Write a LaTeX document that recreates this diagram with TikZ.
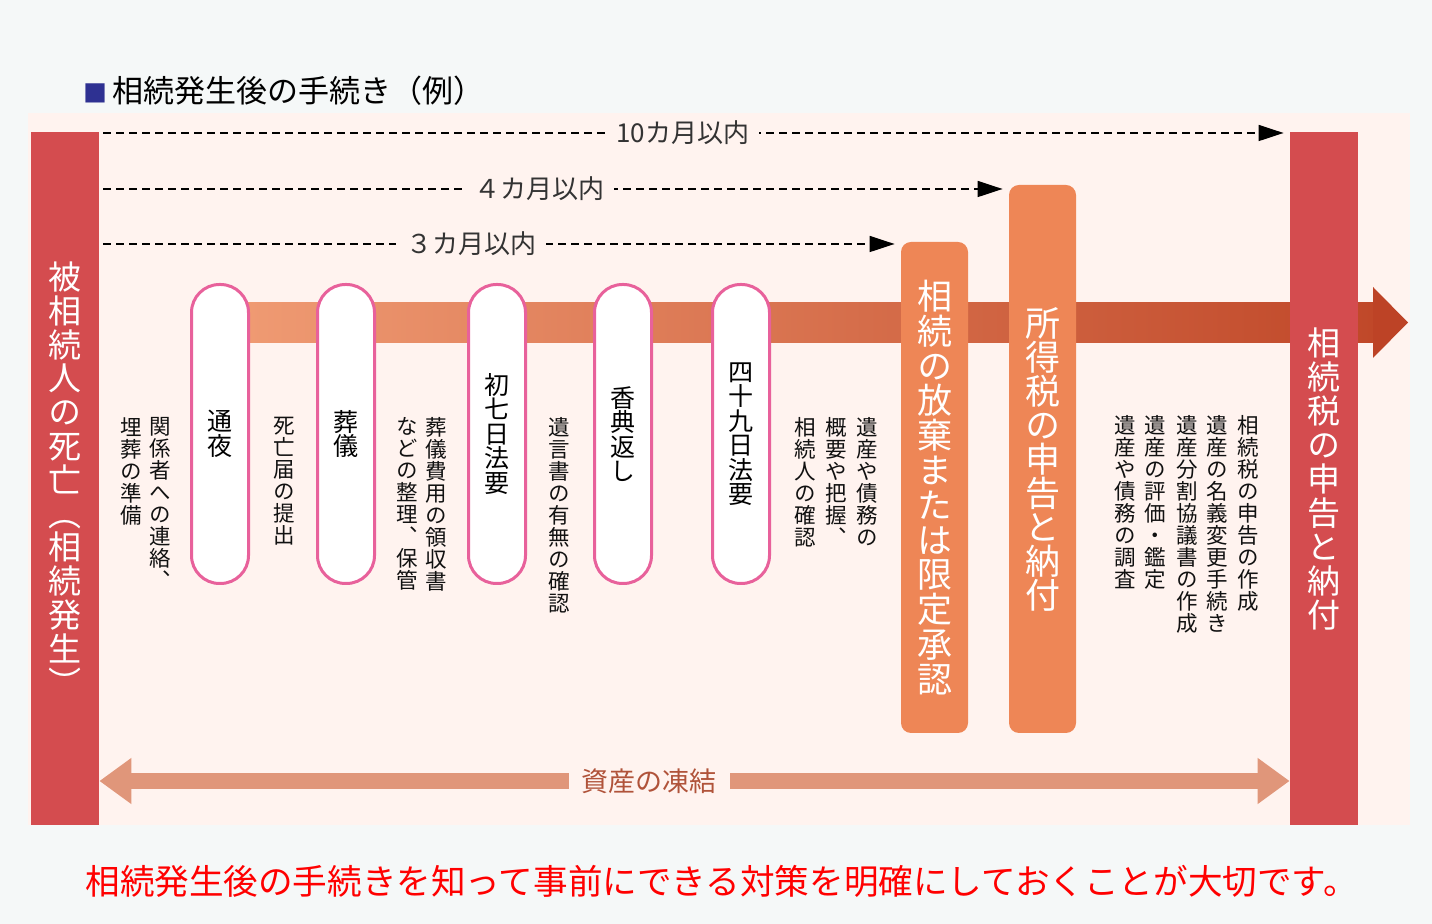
\documentclass[tikz,border=0pt]{standalone}
\usepackage{fontspec}
\setmainfont{Noto Sans CJK JP}
\newfontfamily\tatefont[RawFeature=+vert]{Noto Sans CJK JP}
\usetikzlibrary{arrows.meta}
\definecolor{pagegray}{HTML}{F5F8F8}
\definecolor{panel}{HTML}{FFF3EF}
\definecolor{barred}{HTML}{D44C4F}
\definecolor{procorange}{HTML}{EE8656}
\definecolor{boxpink}{HTML}{E8619B}
\definecolor{bandlight}{HTML}{F09C74}
\definecolor{banddark}{HTML}{C04829}
\definecolor{bandhead}{HTML}{BD4326}
\definecolor{freezecol}{HTML}{E0967A}
\definecolor{freezetext}{HTML}{B0533A}
\definecolor{titleblue}{HTML}{2E3192}
\definecolor{spantext}{HTML}{333333}
\definecolor{notetext}{HTML}{111111}
% vertical text: one character per line
\makeatletter
\newcommand\tate[1]{\vbox{\lineskiplimit=-\maxdimen
  \@tfor\tate@c:=#1\do{\hbox to 1em{\hss\tate@c\hss}}}}
\makeatother
\begin{document}
\begin{tikzpicture}[x=0.5pt,y=-0.5pt,
    redbar/.style={fill=barred,text=white,inner sep=0pt,minimum width=34pt,minimum height=346.5pt},
    eventbox/.style={draw=boxpink,line width=1.5pt,fill=white,rounded corners=14pt,inner sep=0pt,
        minimum width=28.5pt,minimum height=149.5pt,font=\tatefont\fontsize{12.5}{12.25}\selectfont},
    procbox/.style={fill=procorange,text=white,rounded corners=5pt,inner sep=0pt,minimum width=33.5pt},
    note/.style={anchor=north,inner sep=0pt,text=notetext,font=\tatefont\fontsize{10.75}{11}\selectfont},
    dashline/.style={line width=0.75pt,dash pattern=on 4pt off 2.5pt,shorten <=2pt,shorten >=3pt,
        -{Triangle[length=12.5pt,width=8pt]}},
    span/.style={fill=panel,text=spantext,inner xsep=5pt,inner ysep=2pt,font=\fontsize{13}{13}\selectfont},
    freeze/.style={draw=freezecol,line width=8pt,
        {Triangle[length=16pt,width=22pt]}-{Triangle[length=16pt,width=22pt]}}]
    \useasboundingbox (0,0) rectangle (1432,924);
    \fill[pagegray] (0,0) rectangle (1432,924);
    \fill[panel] (28,113) rectangle (1410,825);
    \node[anchor=west,inner sep=0pt,font=\fontsize{15.5}{15.5}\selectfont] (title) at (83,91)
        {{\color{titleblue}\fontsize{12}{12}\selectfont■}\,相続発生後の手続き（例）};
    % timeline band
    \shade[left color=bandlight,right color=banddark] (220,303) rectangle (1374,343);
    \fill[bandhead] (1373,287) -- (1408,322.5) -- (1373,358) -- cycle;
    % start and end
    \node[redbar,font=\tatefont\fontsize{16.5}{16.9}\selectfont] (death) at (65,478.5)
        {\tate{被相続人の死亡（相続発生）}};
    % events
    \node[eventbox] (tsuya) at (220,434) {\tate{通夜}};
    \node[eventbox] (sougi) at (346,434) {\tate{葬儀}};
    \node[eventbox] (nanoka) at (497,434) {\tate{初七日法要}};
    \node[eventbox] (kouden) at (623,434) {\tate{香典返し}};
    \node[eventbox] (shijuku) at (741,434) {\tate{四十九日法要}};
    \node[procbox,minimum height=245.5pt,font=\tatefont\fontsize{17.5}{17.4}\selectfont] (houki) at (934.5,487.5)
        {\tate{相続の放棄または限定承認}};
    \node[procbox,minimum height=274pt,font=\tatefont\fontsize{17.5}{17}\selectfont] (shotoku) at (1042.5,459)
        {\tate{所得税の申告と納付}};
    \node[redbar,font=\tatefont\fontsize{16.5}{17}\selectfont] (taxbar) at (1324,478.5)
        {\tate{相続税の申告と納付}};
    % notes
    \node[note] (contact) at (160,417) {\tate{関係者への連絡、}};
    \node[note] (burial) at (131,417) {\tate{埋葬の準備}};
    \node[note] (notice) at (284,417) {\tate{死亡届の提出}};
    \node[note] (receipts) at (436,417) {\tate{葬儀費用の領収書}};
    \node[note] (storage) at (407,417) {\tate{などの整理、保管}};
    \node[note] (will) at (559,417) {\tate{遺言書の有無の確認}};
    \node[note] (assets) at (867,417) {\tate{遺産や債務の}};
    \node[note] (outline) at (836,417) {\tate{概要や把握、}};
    \node[note] (heirs) at (805,417) {\tate{相続人の確認}};
    \node[note] (taxdoc) at (1248,415) {\tate{相続税の申告の作成}};
    \node[note] (rename) at (1217,415) {\tate{遺産の名義変更手続き}};
    \node[note] (division) at (1187,415) {\tate{遺産分割協議書の作成}};
    \node[note] (valuation) at (1155,415) {\tate{遺産の評価・鑑定}};
    \node[note] (survey) at (1125,415) {\tate{遺産や債務の調査}};
    % deadlines
    \coordinate (r10) at (0,133);
    \coordinate (r4) at (0,189);
    \coordinate (r3) at (0,244);
    \coordinate (rfz) at (0,781);
    \draw[dashline] (death.east |- r10) -- node[span,pos=0.49] (m10) {10カ月以内} (taxbar.west |- r10);
    \draw[dashline] (death.east |- r4) -- node[span,pos=0.484] (m4) {４カ月以内} (shotoku.west |- r4);
    \draw[dashline] (death.east |- r3) -- node[span,pos=0.464] (m3) {３カ月以内} (houki.west |- r3);
    \draw[freeze] (death.east |- rfz) -- node[pos=0.462,fill=panel,text=freezetext,inner xsep=6.5pt,
        font=\fontsize{13.5}{13.5}\selectfont] (frozen) {資産の凍結} (taxbar.west |- rfz);
    \node[anchor=west,inner sep=0pt,text=red,font=\fontsize{17.3}{17.3}\selectfont] (moral) at (85,881)
        {相続発生後の手続きを知って事前にできる対策を明確にしておくことが大切です。};
\end{tikzpicture}
\end{document}
